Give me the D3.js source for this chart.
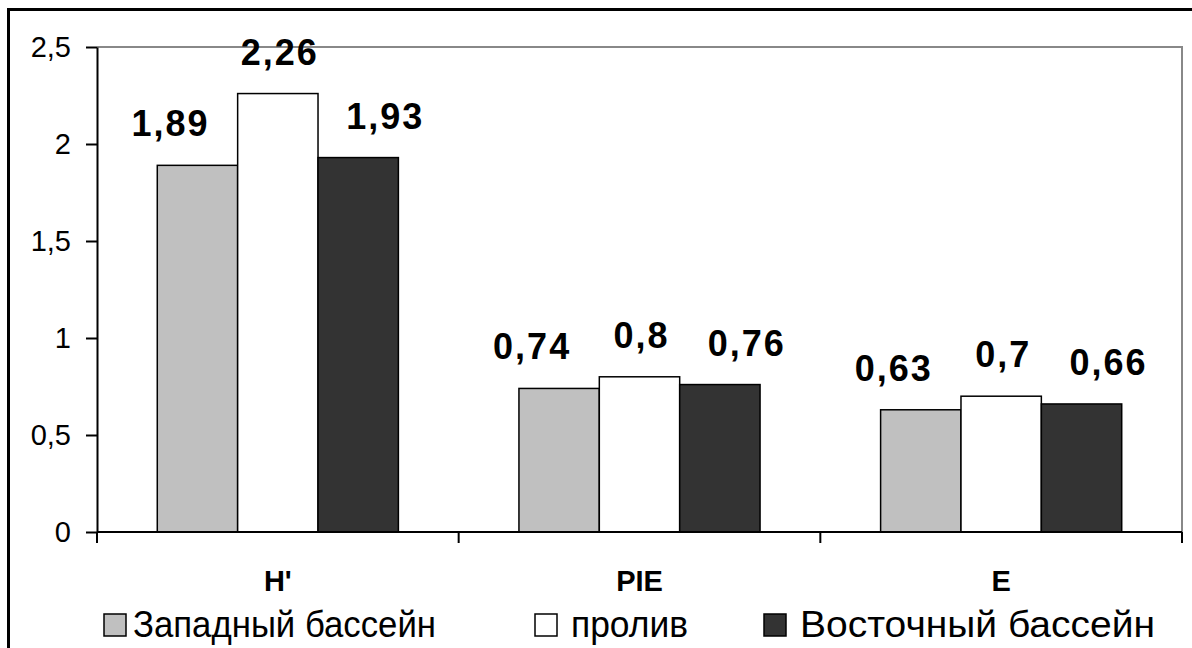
<!DOCTYPE html>
<head>
	<meta charset="utf-8" />
	<style>
		body { margin: 0; background: #fff; overflow: hidden; }
		svg { display: block; font-family: Arial, 'Liberation Sans', sans-serif; }
	</style>
</head>
<body>
	<div id="chart-area"></div>
	<script src="https://cdnjs.cloudflare.com/ajax/libs/d3/7.8.5/d3.min.js"></script>
	<script>
		const categories = ["H'", 'PIE', 'E'];
		const seriesNames = ['Западный бассейн', 'пролив', 'Восточный бассейн'];
		const seriesColors = ['#c0c0c0', '#ffffff', '#333333'];
		const western = [1.89, 0.74, 0.63];
		const strait = [2.26, 0.8, 0.7];
		const eastern = [1.93, 0.76, 0.66];
		const yTicks = [0, 0.5, 1, 1.5, 2, 2.5];

		const series = [western, strait, eastern];
		const W = 1192, H = 648;
		const plot = { left: 97, top: 47, right: 1182, bottom: 532 };
		// labels sit a bit outward from the bar centres, like in the original
		const labelShift = [-27, 2, 27];

		const ru = d3.formatLocale({ decimal: ',', thousands: ' ', grouping: [3], currency: ['', ''] });
		const fmt = ru.format('~g');

		const svg = d3.select('#chart-area').append('svg')
			.attr('width', W).attr('height', H);

		// outer frame (runs off the right and bottom edges)
		svg.append('rect')
			.attr('x', 8.5).attr('y', 9.5).attr('width', 1300).attr('height', 800)
			.attr('fill', 'none').attr('stroke', '#000').attr('stroke-width', 3);

		const x0 = d3.scaleBand().domain(categories).range([plot.left, plot.right]);
		const bw = x0.bandwidth();
		const x1 = d3.scaleBand().domain(d3.range(series.length)).range([bw / 6, bw * 5 / 6]);
		const y = d3.scaleLinear().domain([0, 2.5]).range([plot.bottom, plot.top]);

		// plot area border (gray top/right)
		svg.append('path')
			.attr('d', `M${plot.left},${plot.top}H${plot.right}V${plot.bottom}`)
			.attr('fill', 'none').attr('stroke', '#888').attr('stroke-width', 2);

		const groups = svg.append('g').selectAll('g')
			.data(categories)
			.join('g')
			.attr('transform', d => `translate(${x0(d)},0)`);

		groups.selectAll('rect')
			.data((c, ci) => series.map((s, si) => ({ si, v: s[ci] })))
			.join('rect')
			.attr('x', d => x1(d.si))
			.attr('width', x1.bandwidth())
			.attr('y', d => y(d.v))
			.attr('height', d => y(0) - y(d.v))
			.attr('fill', d => seriesColors[d.si])
			.attr('stroke', '#000').attr('stroke-width', 1.5);

		groups.selectAll('text')
			.data((c, ci) => series.map((s, si) => ({ si, v: s[ci] })))
			.join('text')
			.attr('x', d => x1(d.si) + x1.bandwidth() / 2 + labelShift[d.si])
			.attr('y', d => y(d.v) - 29)
			.attr('text-anchor', 'middle')
			.attr('font-size', 36).attr('font-weight', 'bold')
			.attr('letter-spacing', 2)
			.text(d => fmt(d.v));

		// y axis
		const yAxis = svg.append('g')
			.attr('transform', `translate(${plot.left},0)`)
			.call(d3.axisLeft(y).tickValues(yTicks).tickFormat(fmt).tickSize(11).tickPadding(15).tickSizeOuter(0));
		yAxis.select('.domain').attr('stroke-width', 2);
		yAxis.selectAll('.tick line').attr('stroke-width', 2);
		yAxis.selectAll('text').attr('font-size', 29).attr('font-family', 'Arial, Liberation Sans, sans-serif').attr('fill', '#000');

		// x axis with ticks at band edges
		const edges = categories.map(c => x0(c)).concat([plot.right]);
		svg.append('line')
			.attr('x1', plot.left).attr('x2', plot.right)
			.attr('y1', plot.bottom).attr('y2', plot.bottom)
			.attr('stroke', '#000').attr('stroke-width', 2);
		svg.append('g').selectAll('line')
			.data(edges)
			.join('line')
			.attr('x1', d => d).attr('x2', d => d)
			.attr('y1', plot.bottom).attr('y2', plot.bottom + 11)
			.attr('stroke', '#000').attr('stroke-width', 2);
		svg.append('g').selectAll('text')
			.data(categories)
			.join('text')
			.attr('x', d => x0(d) + bw / 2)
			.attr('y', 591)
			.attr('text-anchor', 'middle')
			.attr('font-size', 29).attr('font-weight', 'bold')
			.text(d => d);

		// legend
		const legendX = [104, 535, 764];
		const legendLen = [303, 117, 355];
		const legend = svg.append('g').selectAll('g')
			.data(seriesNames)
			.join('g')
			.attr('transform', (d, i) => `translate(${legendX[i]},614)`);
		legend.append('rect')
			.attr('width', 22).attr('height', 22)
			.attr('fill', (d, i) => seriesColors[i])
			.attr('stroke', '#000').attr('stroke-width', 1.5);
		legend.append('text')
			.attr('x', (d, i) => i === 0 ? 29 : 36).attr('y', 23)
			.attr('font-size', 36)
			.attr('textLength', (d, i) => legendLen[i])
			.attr('lengthAdjust', 'spacingAndGlyphs')
			.text(d => d);
	</script>
</body>
